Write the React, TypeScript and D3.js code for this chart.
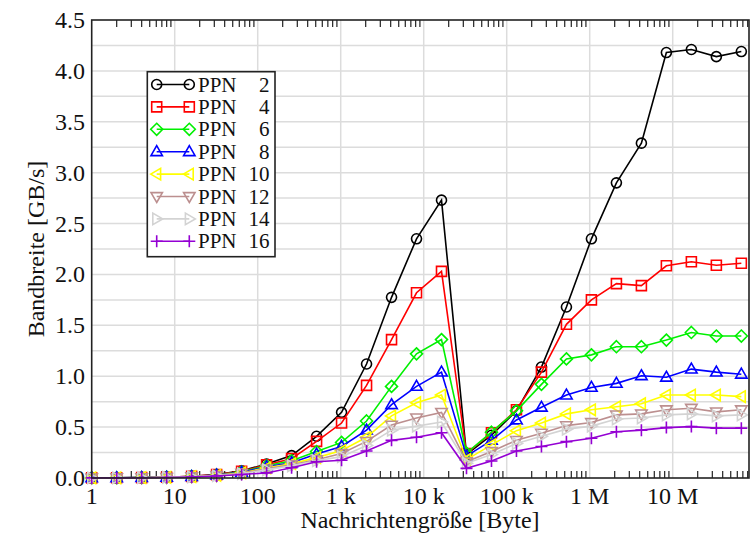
import React from 'react';
import * as d3 from 'd3';

const messageSizes = [1, 2, 4, 8, 16, 32, 64, 128, 256, 512, 1024, 2048, 4096, 8192, 16384, 32768, 65536, 131072, 262144, 524288, 1048576, 2097152, 4194304, 8388608, 16777216, 33554432, 67108864];

const ppnLabels = ['2', '4', '6', '8', '10', '12', '14', '16'];

const ppn2 = [0.001, 0.002, 0.004, 0.008, 0.017, 0.034, 0.07, 0.137, 0.22, 0.41, 0.645, 1.12, 1.775, 2.35, 2.73, 0.23, 0.42, 0.66, 1.09, 1.68, 2.35, 2.9, 3.29, 4.18, 4.21, 4.14, 4.19];
const ppn4 = [0.001, 0.002, 0.004, 0.008, 0.016, 0.033, 0.066, 0.13, 0.19, 0.36, 0.54, 0.91, 1.36, 1.82, 2.03, 0.24, 0.445, 0.67, 1.04, 1.51, 1.75, 1.91, 1.89, 2.085, 2.125, 2.09, 2.11];
const ppn6 = [0.001, 0.002, 0.004, 0.008, 0.015, 0.03, 0.06, 0.12, 0.17, 0.26, 0.35, 0.56, 0.9, 1.22, 1.36, 0.245, 0.45, 0.66, 0.92, 1.17, 1.21, 1.29, 1.29, 1.355, 1.43, 1.395, 1.395];
const ppn8 = [0.001, 0.002, 0.004, 0.007, 0.014, 0.028, 0.055, 0.11, 0.15, 0.235, 0.31, 0.47, 0.72, 0.9, 1.04, 0.215, 0.37, 0.57, 0.695, 0.815, 0.89, 0.93, 1.005, 0.99, 1.07, 1.04, 1.02];
const ppn10 = [0.001, 0.002, 0.003, 0.007, 0.013, 0.026, 0.05, 0.1, 0.14, 0.2, 0.27, 0.4, 0.61, 0.74, 0.815, 0.18, 0.325, 0.465, 0.54, 0.63, 0.67, 0.7, 0.73, 0.815, 0.815, 0.815, 0.8];
const ppn12 = [0.001, 0.002, 0.003, 0.006, 0.012, 0.024, 0.046, 0.09, 0.13, 0.18, 0.24, 0.36, 0.52, 0.59, 0.645, 0.16, 0.26, 0.37, 0.44, 0.515, 0.545, 0.62, 0.63, 0.67, 0.685, 0.65, 0.67];
const ppn14 = [0.001, 0.002, 0.003, 0.006, 0.011, 0.022, 0.042, 0.08, 0.12, 0.17, 0.21, 0.32, 0.47, 0.51, 0.55, 0.145, 0.23, 0.34, 0.41, 0.48, 0.51, 0.58, 0.59, 0.62, 0.63, 0.61, 0.62];
const ppn16 = [0.001, 0.001, 0.003, 0.005, 0.01, 0.02, 0.035, 0.05, 0.1, 0.16, 0.175, 0.265, 0.37, 0.4, 0.445, 0.095, 0.167, 0.265, 0.31, 0.357, 0.39, 0.455, 0.47, 0.495, 0.505, 0.49, 0.49];

const seriesValues = [ppn2, ppn4, ppn6, ppn8, ppn10, ppn12, ppn14, ppn16];
const seriesColors = ['#000000', '#ff0000', '#00f000', '#0000ff', '#ffff00', '#bc8f8f', '#d3d3d3', '#9400d3'];
const seriesMarkers = ['circle', 'square', 'diamond', 'triUp', 'triLeft', 'triDown', 'triRight', 'plus'];

const xTickValues = [1, 10, 100, 1e3, 1e4, 1e5, 1e6, 1e7];
const xTickLabels = ['1', '10', '100', '1 k', '10 k', '100 k', '1 M', '10 M'];
const yTickValues = [0, 0.5, 1, 1.5, 2, 2.5, 3, 3.5, 4, 4.5];
const yTickLabels = ['0.0', '0.5', '1.0', '1.5', '2.0', '2.5', '3.0', '3.5', '4.0', '4.5'];
const yGridValues = [0.25, 0.5, 0.75, 1, 1.25, 1.5, 1.75, 2, 2.25, 2.5, 2.75, 3, 3.25, 3.5, 3.75, 4, 4.25];

const W = 752;
const H = 535;
const L = 91.7;
const R = 749;
const T = 20;
const B = 478;
const FONT = '"Liberation Serif", "DejaVu Serif", serif';

function markerPath(kind: string, x: number, y: number): string {
  const s = 5.2;
  switch (kind) {
    case 'circle':
      return `M${x - 5},${y}a5,5 0 1,0 10,0a5,5 0 1,0 -10,0Z`;
    case 'square':
      return `M${x - 5},${y - 5}h10v10h-10Z`;
    case 'diamond':
      return `M${x},${y - 6}L${x + 6},${y}L${x},${y + 6}L${x - 6},${y}Z`;
    case 'triUp':
      return `M${x},${y - s * 1.15}L${x + s * 1.1},${y + s * 0.75}L${x - s * 1.1},${y + s * 0.75}Z`;
    case 'triDown':
      return `M${x},${y + s * 1.15}L${x + s * 1.1},${y - s * 0.75}L${x - s * 1.1},${y - s * 0.75}Z`;
    case 'triLeft':
      return `M${x - s * 1.15},${y}L${x + s * 0.75},${y - s * 1.1}L${x + s * 0.75},${y + s * 1.1}Z`;
    case 'triRight':
      return `M${x + s * 1.15},${y}L${x - s * 0.75},${y - s * 1.1}L${x - s * 0.75},${y + s * 1.1}Z`;
    case 'plus':
    default:
      return `M${x - 6},${y}H${x + 6}M${x},${y - 6}V${y + 6}`;
  }
}

export default function App() {
  const x = d3.scaleLog().domain([1, 8.3e7]).range([L, R]);
  const y = d3.scaleLinear().domain([0, 4.5]).range([B, T]);

  const minorTicks: number[] = [];
  xTickValues.forEach((d) => {
    for (let k = 2; k <= 9; k++) {
      const v = d * k;
      if (v < 8.3e7) minorTicks.push(v);
    }
  });

  const line = d3
    .line<number>()
    .x((_, i) => x(messageSizes[i]))
    .y((d) => y(d));

  const legendX0 = 156.7;
  const legendX1 = 189.3;
  const legendY0 = 84.5;
  const legendDy = 22.4;

  return (
    <svg width={W} height={H} style={{ position: 'absolute', left: 0, top: 0, background: '#fff' }} fontFamily={FONT}>
      <rect x={0} y={0} width={W} height={H} fill="#fff" />
      {/* grid */}
      {yGridValues.map((v) => (
        <line key={'gy' + v} x1={L} x2={R} y1={y(v)} y2={y(v)} stroke="#dcdcdc" strokeWidth={1.5} />
      ))}
      {xTickValues.slice(1).map((v) => (
        <line key={'gx' + v} x1={x(v)} x2={x(v)} y1={T} y2={B} stroke="#dcdcdc" strokeWidth={1.5} />
      ))}
      {/* minor ticks */}
      {minorTicks.map((v) => (
        <g key={'mt' + v}>
          <line x1={x(v)} x2={x(v)} y1={B} y2={B - 7} stroke="#222" strokeWidth={1.2} />
          <line x1={x(v)} x2={x(v)} y1={T} y2={T + 7} stroke="#222" strokeWidth={1.2} />
        </g>
      ))}
      {/* series */}
      {seriesValues.map((vals, si) => (
        <g key={'s' + si}>
          <path d={line(vals) || ''} fill="none" stroke={seriesColors[si]} strokeWidth={1.6} />
          {vals.map((v, i) => (
            <path
              key={i}
              d={markerPath(seriesMarkers[si], x(messageSizes[i]), y(v))}
              fill="none"
              stroke={seriesColors[si]}
              strokeWidth={1.6}
            />
          ))}
        </g>
      ))}
      {/* frame */}
      <rect x={L} y={T} width={R - L} height={B - T} fill="none" stroke="#222" strokeWidth={1.6} />
      {/* y tick labels */}
      {yTickValues.map((v, i) => (
        <text key={'yl' + v} x={85} y={y(v)} textAnchor="end" dominantBaseline="central" fontSize={24} fill="#111">
          {yTickLabels[i]}
        </text>
      ))}
      {/* x tick labels */}
      {xTickValues.map((v, i) => (
        <text key={'xl' + v} x={x(v)} y={504} textAnchor="middle" fontSize={24} fill="#111">
          {xTickLabels[i]}
        </text>
      ))}
      {/* axis titles */}
      <text x={420} y={528} textAnchor="middle" fontSize={24} fill="#111">
        Nachrichtengröße [Byte]
      </text>
      <text
        transform={`translate(36,${(T + B) / 2}) rotate(-90)`}
        textAnchor="middle"
        dominantBaseline="central"
        fontSize={24}
        fill="#111"
      >
        Bandbreite [GB/s]
      </text>
      {/* legend */}
      <rect x={147.3} y={71.7} width={127.7} height={185} fill="#fff" stroke="#222" strokeWidth={1.6} />
      {ppnLabels.map((lab, i) => {
        const ly = legendY0 + i * legendDy;
        return (
          <g key={'lg' + i}>
            <line x1={legendX0} x2={legendX1} y1={ly} y2={ly} stroke={seriesColors[i]} strokeWidth={1.6} />
            <path d={markerPath(seriesMarkers[i], legendX0, ly)} fill="none" stroke={seriesColors[i]} strokeWidth={1.6} />
            <path d={markerPath(seriesMarkers[i], legendX1, ly)} fill="none" stroke={seriesColors[i]} strokeWidth={1.6} />
            <text x={198} y={ly} dominantBaseline="central" fontSize={21} fill="#111">
              PPN
            </text>
            <text x={269.5} y={ly} textAnchor="end" dominantBaseline="central" fontSize={21} fill="#111">
              {lab}
            </text>
          </g>
        );
      })}
    </svg>
  );
}
